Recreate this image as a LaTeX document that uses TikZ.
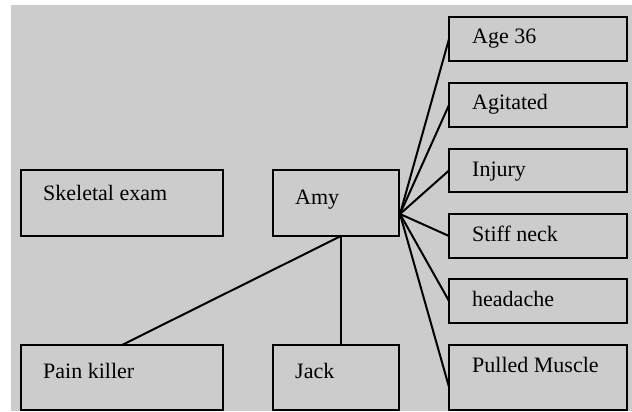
\documentclass[tikz,border=0pt]{standalone}
\usepackage{fontspec}
\setmainfont{Liberation Serif}
\usetikzlibrary{calc}
\definecolor{bggray}{RGB}{204,204,204}
\tikzset{
  box/.style={draw=black, line width=2pt, anchor=north west, inner sep=0pt, outer sep=0pt},
  lblA/.style={anchor=base west, inner sep=0pt, xshift=22pt},
  conn/.style={draw=black, line width=2pt},
}
\newcommand{\txtfont}{\fontsize{22}{26}\selectfont}
\begin{document}
\begin{tikzpicture}[x=1pt,y=-1pt, font=\txtfont]
\useasboundingbox (0,0) rectangle (632,412);
\fill[bggray] (11,5) rectangle (632,411);
% left and middle boxes
\node[box, minimum width=202, minimum height=66,
  label={[lblA, yshift=-30pt]north west:Skeletal exam}] (sk) at (21,170) {};
\node[box, minimum width=126, minimum height=66,
  label={[lblA, yshift=-34pt]north west:Amy}] (amy) at (273,170) {};
\node[box, minimum width=202, minimum height=65,
  label={[lblA, yshift=-33pt]north west:Pain killer}] (pk) at (21,345) {};
\node[box, minimum width=126, minimum height=65,
  label={[lblA, yshift=-33pt]north west:Jack}] (jack) at (273,345) {};
% right boxes
\node[box, minimum width=178, minimum height=44,
  label={[lblA, xshift=1pt, yshift=-27pt]north west:Age 36}] (age) at (449,17) {};
\node[box, minimum width=178, minimum height=44,
  label={[lblA, xshift=1pt, yshift=-27pt]north west:Agitated}] (agi) at (449,83) {};
\node[box, minimum width=178, minimum height=43,
  label={[lblA, xshift=1pt, yshift=-27pt]north west:Injury}] (inj) at (449,149) {};
\node[box, minimum width=178, minimum height=44,
  label={[lblA, xshift=1pt, yshift=-27pt]north west:Stiff neck}] (stiff) at (449,214) {};
\node[box, minimum width=178, minimum height=44,
  label={[lblA, xshift=1pt, yshift=-27pt]north west:headache}] (head) at (449,279) {};
\node[box, minimum width=178, minimum height=65,
  label={[lblA, xshift=1pt, yshift=-27pt]north west:Pulled Muscle}] (pm) at (449,345) {};
% connection points
\coordinate (hub) at ($(amy.north east)+(1,44)$);
\coordinate (amyb) at ($(amy.south west)+(68,0)$);
\coordinate (jackt) at ($(jack.north west)+(68,0)$);
\coordinate (pmin) at ($(pm.north west)+(0,42)$);
% connectors
\draw[conn] (amyb) -- (pk.north);
\draw[conn] (amyb) -- (jackt);
\draw[conn] (hub) -- (age.west);
\draw[conn] (hub) -- (agi.west);
\draw[conn] (hub) -- (inj.west);
\draw[conn] (hub) -- (stiff.west);
\draw[conn] (hub) -- (head.west);
\draw[conn] (hub) -- (pmin);
\end{tikzpicture}
\end{document}
